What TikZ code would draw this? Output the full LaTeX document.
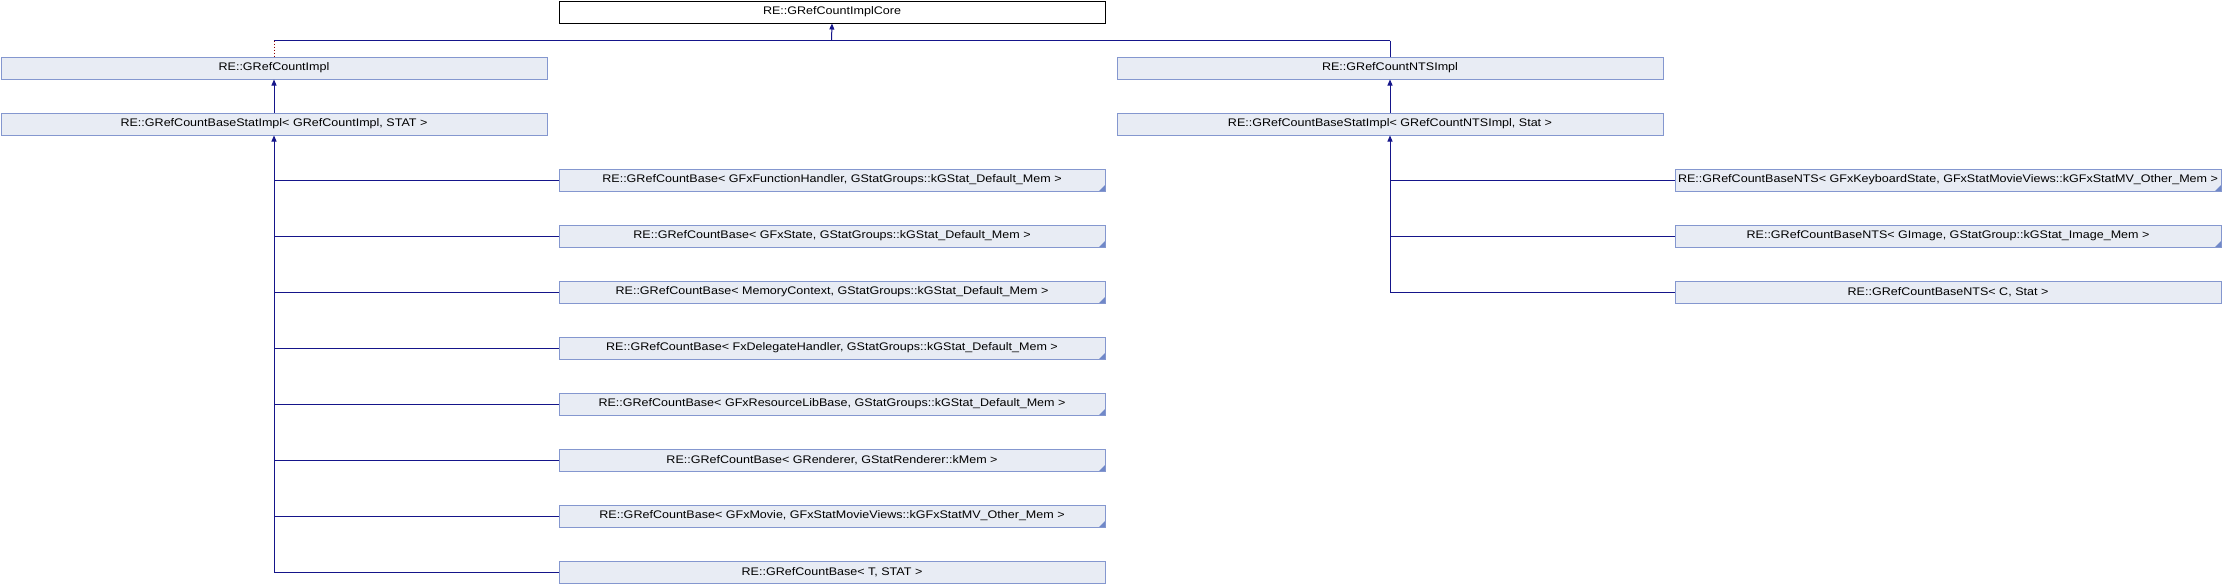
\documentclass[tikz,border=0pt]{standalone}
\usepackage{fontspec}
\newfontfamily\dx[FakeStretch=1.14]{Liberation Sans}
\usetikzlibrary{arrows.meta}
\definecolor{fillc}{HTML}{E8ECF4}
\definecolor{bordc}{HTML}{8497CF}
\definecolor{cornc}{HTML}{7088C8}
\definecolor{linkc}{HTML}{15158A}
\definecolor{privc}{HTML}{8B0000}
\tikzset{
  cls/.style={draw=bordc, fill=fillc, line width=1pt, minimum width=546pt,
    minimum height=22pt, inner sep=0pt, anchor=north west,
    font=\dx\fontsize{11}{12}\selectfont, text=black},
  corecls/.style={cls, draw=black, fill=white},
  inst/.style={cls, path picture={\fill[cornc] (path picture bounding box.south east)
      -- ++(-6pt,0pt) -- ++(6pt,6pt) -- cycle;}},
  link/.style={draw=linkc, line width=1pt},
  privlink/.style={draw=privc, line width=1pt, dotted},
  tip/.style={-{Triangle[width=5pt,length=6pt]}}
}
\begin{document}
\begin{tikzpicture}[x=1pt,y=-1pt]
\useasboundingbox (0,0) rectangle (2222,584);
% columns: 0.5, 558.5, 1116.5, 1674.5 ; rows: 56k+0.5
\node[corecls] (core) at (558.5,0.5) {RE::GRefCountImplCore};
\node[cls] (impl) at (0.5,56.5) {RE::GRefCountImpl};
\node[cls] (nts) at (1116.5,56.5) {RE::GRefCountNTSImpl};
\node[cls] (statL) at (0.5,112.5) {RE::GRefCountBaseStatImpl< GRefCountImpl, STAT >};
\node[cls] (statR) at (1116.5,112.5) {RE::GRefCountBaseStatImpl< GRefCountNTSImpl, Stat >};
\node[inst] (l1) at (558.5,168.5) {RE::GRefCountBase< GFxFunctionHandler, GStatGroups::kGStat\_Default\_Mem >};
\node[inst] (l2) at (558.5,224.5) {RE::GRefCountBase< GFxState, GStatGroups::kGStat\_Default\_Mem >};
\node[inst] (l3) at (558.5,280.5) {RE::GRefCountBase< MemoryContext, GStatGroups::kGStat\_Default\_Mem >};
\node[inst] (l4) at (558.5,336.5) {RE::GRefCountBase< FxDelegateHandler, GStatGroups::kGStat\_Default\_Mem >};
\node[inst] (l5) at (558.5,392.5) {RE::GRefCountBase< GFxResourceLibBase, GStatGroups::kGStat\_Default\_Mem >};
\node[inst] (l6) at (558.5,448.5) {RE::GRefCountBase< GRenderer, GStatRenderer::kMem >};
\node[inst] (l7) at (558.5,504.5) {RE::GRefCountBase< GFxMovie, GFxStatMovieViews::kGFxStatMV\_Other\_Mem >};
\node[cls] (l8) at (558.5,560.5) {RE::GRefCountBase< T, STAT >};
\node[inst] (r1) at (1674.5,168.5) {RE::GRefCountBaseNTS< GFxKeyboardState, GFxStatMovieViews::kGFxStatMV\_Other\_Mem >};
\node[inst] (r2) at (1674.5,224.5) {RE::GRefCountBaseNTS< GImage, GStatGroup::kGStat\_Image\_Mem >};
\node[cls] (r3) at (1674.5,280.5) {RE::GRefCountBaseNTS< C, Stat >};
% top junction
\coordinate (jtop) at (831.5,40.5);
\draw[link] (impl.north |- jtop) -- (nts.north |- jtop);
\draw[link,tip] (jtop) -- (core.south);
\draw[privlink] (impl.north |- jtop) -- (impl.north);
\draw[link] (nts.north |- jtop) -- (nts.north);
% second level
\draw[link,tip] (statL.north) -- (impl.south);
\draw[link,tip] (statR.north) -- (nts.south);
% left trunk
\draw[link,tip] (statL.south |- l8.west) -- (statL.south);
\foreach \c in {l1,l2,l3,l4,l5,l6,l7,l8}{
  \draw[link] (\c.west) -- (statL.south |- \c.west);
}
% right trunk
\draw[link,tip] (statR.south |- r3.west) -- (statR.south);
\foreach \c in {r1,r2,r3}{
  \draw[link] (\c.west) -- (statR.south |- \c.west);
}
\end{tikzpicture}
\end{document}
